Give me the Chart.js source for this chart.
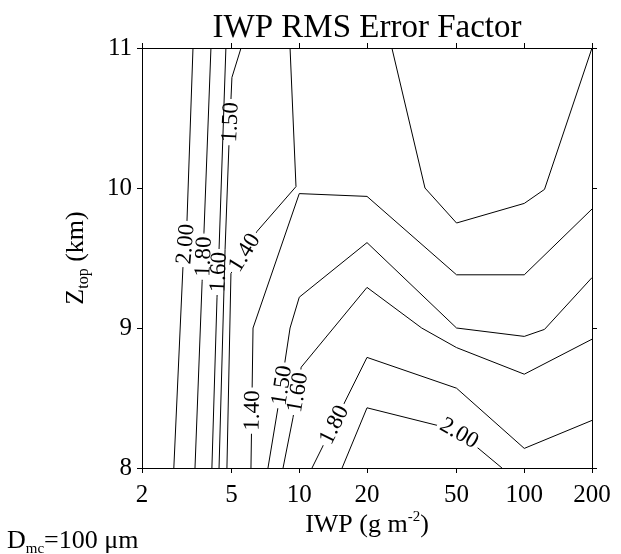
<!DOCTYPE html>
<html><head><meta charset="utf-8">
<script src="https://cdn.jsdelivr.net/npm/chart.js@4/dist/chart.umd.min.js"></script>
<style>html,body{margin:0;padding:0;background:#fff}#wrap{width:621px;height:554px;position:relative}</style>
</head><body><div id="wrap"><canvas id="c"></canvas></div>
<script>
// ---- data (IWP g m^-2, Ztop km) ----
const xTicks = [2, 5, 10, 20, 50, 100, 200];
const yTicks = [8, 9, 10, 11];
const c200a = [[3.37, 11], [3.17, 9.77], [3.04, 9.43], [2.77, 8]];
const c180a = [[4.05, 11], [3.77, 9.68], [3.70, 9.33], [3.44, 8]];
const c160a = [[4.72, 11], [4.40, 9.56], [4.31, 9.22], [4.09, 8]];
const c150a = [[5.51, 11], [5.02, 10.79], [4.87, 10.31], [4.68, 9.56], [4.40, 8]];
const c140a = [[9.10, 11], [9.67, 10.01], [6.49, 9.69], [4.97, 9.39], [4.77, 8]];
const c140b = [[200, 9.85], [100, 9.38], [50, 9.38], [20, 9.94], [10, 9.96], [6.23, 9.0], [6.10, 8]];
const c150b = [[200, 9.36], [123, 8.99], [100, 8.94], [50, 9.0], [20, 9.61], [10, 9.22], [9.10, 9.0], [8.04, 8.43], [7.26, 8]];
const c160b = [[200, 8.92], [100, 8.67], [50, 8.86], [35, 9.0], [20, 9.29], [10.2, 8.72], [9.38, 8.36], [8.47, 8]];
const c180b = [[200, 8.34], [100, 8.14], [50, 8.57], [20, 8.79], [11.39, 8]];
const c200b = [[15.5, 8], [20, 8.43], [50, 8.27], [79.6, 8]];
const c130 = [[25.8, 11], [36.2, 10.0], [50, 9.75], [100, 9.89], [123, 9.99], [200, 11]];
const contourLines = [c200a, c180a, c160a, c150a, c140a, c140b, c150b, c160b, c180b, c200b, c130];
// labels: labelTexts[i] sits on contourLines[i] near labelAnchors[i]
const labelTexts = ['2.00', '1.80', '1.60', '1.50', '1.40', '1.40', '1.50', '1.60', '1.80', '2.00'];
const labelAnchors = [[3.1, 9.6], [3.73, 9.51], [4.35, 9.4], [4.92, 10.47], [5.68, 9.54], [6.15, 8.41], [8.34, 8.59], [9.87, 8.54], [14.24, 8.31], [52, 8.26]];

const FONT = '"Liberation Serif","Times New Roman",serif';
const LABEL_FONT = '23px ' + FONT;

function labelGeom(chart, i) {
  const X = chart.scales.x, Y = chart.scales.y;
  const pts = contourLines[i].map(p => [X.getPixelForValue(p[0]), Y.getPixelForValue(p[1])]);
  const a = [X.getPixelForValue(labelAnchors[i][0]), Y.getPixelForValue(labelAnchors[i][1])];
  const arc = [0];
  for (let k = 1; k < pts.length; k++) arc.push(arc[k - 1] + Math.hypot(pts[k][0] - pts[k - 1][0], pts[k][1] - pts[k - 1][1]));
  let best = {d: Infinity, s: 0, q: a};
  for (let k = 1; k < pts.length; k++) {
    const p0 = pts[k - 1], p1 = pts[k];
    const dx = p1[0] - p0[0], dy = p1[1] - p0[1], L2 = dx * dx + dy * dy;
    let t = L2 ? ((a[0] - p0[0]) * dx + (a[1] - p0[1]) * dy) / L2 : 0;
    t = Math.max(0, Math.min(1, t));
    const q = [p0[0] + t * dx, p0[1] + t * dy];
    const d = Math.hypot(q[0] - a[0], q[1] - a[1]);
    if (d < best.d) best = {d, s: arc[k - 1] + t * Math.sqrt(L2), q};
  }
  const at = s => {
    s = Math.max(0, Math.min(arc[arc.length - 1], s));
    for (let k = 1; k < pts.length; k++) {
      if (s <= arc[k] || k === pts.length - 1) {
        const L = arc[k] - arc[k - 1], t = L ? (s - arc[k - 1]) / L : 0;
        return [pts[k - 1][0] + t * (pts[k][0] - pts[k - 1][0]), pts[k - 1][1] + t * (pts[k][1] - pts[k - 1][1])];
      }
    }
  };
  const h = 16, u = at(best.s - h), v = at(best.s + h);
  let ang = Math.atan2(v[1] - u[1], v[0] - u[0]);
  if (ang > Math.PI / 2) ang -= Math.PI; else if (ang <= -Math.PI / 2) ang += Math.PI;
  return {x: best.q[0], y: best.q[1], ang};
}

const contourPlugin = {
  id: 'contourLabels',
  beforeDatasetDraw(chart, args) {
    const i = args.index;
    if (i >= labelTexts.length) return;
    const ctx = chart.ctx, g = labelGeom(chart, i);
    ctx.font = LABEL_FONT;
    const hw = ctx.measureText(labelTexts[i]).width / 2 + 3, hh = 6;
    const c = Math.cos(g.ang), s = Math.sin(g.ang);
    const corner = (lx, ly) => [g.x + lx * c - ly * s, g.y + lx * s + ly * c];
    ctx.save();
    ctx.beginPath();
    ctx.rect(0, 0, chart.width, chart.height);
    const cs = [corner(-hw, -hh), corner(hw, -hh), corner(hw, hh), corner(-hw, hh)];
    ctx.moveTo(cs[0][0], cs[0][1]);
    for (let k = 1; k < 4; k++) ctx.lineTo(cs[k][0], cs[k][1]);
    ctx.closePath();
    ctx.clip('evenodd');
  },
  afterDatasetDraw(chart, args) {
    if (args.index < labelTexts.length) chart.ctx.restore();
  },
  afterDraw(chart) {
    const ctx = chart.ctx;
    ctx.save();
    ctx.fillStyle = '#000';
    // contour labels
    ctx.font = LABEL_FONT;
    ctx.textAlign = 'center';
    ctx.textBaseline = 'middle';
    labelTexts.forEach((t, i) => {
      const g = labelGeom(chart, i);
      ctx.save();
      ctx.translate(g.x, g.y);
      ctx.rotate(g.ang);
      ctx.fillText(t, 0, 1);
      ctx.restore();
    });
    const ca = chart.chartArea;
    const cx = (ca.left + ca.right) / 2, cy = (ca.top + ca.bottom) / 2;
    // title
    ctx.textBaseline = 'alphabetic';
    ctx.textAlign = 'center';
    ctx.font = '33px ' + FONT;
    ctx.fillText('IWP RMS Error Factor', cx, 37);
    const runs = (parts) => {
      let w = 0;
      parts.forEach(p => { ctx.font = p.size + 'px ' + FONT; p.w = ctx.measureText(p.t).width; w += p.w; });
      return w;
    };
    const drawRuns = (parts, x0, y0) => {
      ctx.textAlign = 'left';
      let x = x0;
      parts.forEach(p => { ctx.font = p.size + 'px ' + FONT; ctx.fillText(p.t, x, y0 + (p.dy || 0)); x += p.w; });
    };
    // x-axis title
    const xt = [{t: 'IWP (g m', size: 26}, {t: '-2', size: 15, dy: -11}, {t: ')', size: 26}];
    const xw = runs(xt);
    drawRuns(xt, cx - xw / 2, 532);
    // y-axis title
    const yt = [{t: 'Z', size: 26}, {t: 'top', size: 16, dy: 5}, {t: ' (km)', size: 26}];
    const yw = runs(yt);
    ctx.save();
    ctx.translate(83, cy);
    ctx.rotate(-Math.PI / 2);
    drawRuns(yt, -yw / 2, 0);
    ctx.restore();
    // parameter note
    const dt = [{t: 'D', size: 26}, {t: 'mc', size: 15, dy: 5}, {t: '=100 μm', size: 26}];
    runs(dt);
    drawRuns(dt, 7, 548);
    ctx.restore();
  }
};

const tickFont = {family: FONT, size: 25};
const axisCommon = {
  grid: {drawOnChartArea: false, drawTicks: true, tickLength: 5, color: '#000', lineWidth: 1},
  border: {display: true, color: '#000', width: 1}
};

new Chart(document.getElementById('c'), {
  type: 'scatter',
  data: {
    datasets: contourLines.map(line => ({
      data: line.map(p => ({x: p[0], y: p[1]})),
      showLine: true, borderColor: '#000', borderWidth: 1, pointRadius: 0, pointHoverRadius: 0, fill: false, tension: 0
    }))
  },
  options: {
    responsive: true, maintainAspectRatio: false, animation: false,
    layout: {padding: 0},
    plugins: {legend: {display: false}, tooltip: {enabled: false}, title: {display: false}},
    events: [],
    scales: {
      x: Object.assign({}, axisCommon, {
        type: 'logarithmic', position: 'bottom', min: 2, max: 200,
        afterBuildTicks: s => { s.ticks = xTicks.map(v => ({value: v})); },
        afterFit: s => { s.height = 86; },
        ticks: {font: tickFont, color: '#000', padding: 7, maxRotation: 0, autoSkip: false, callback: v => String(v)}
      }),
      x2: Object.assign({}, axisCommon, {
        type: 'logarithmic', position: 'top', min: 2, max: 200,
        afterBuildTicks: s => { s.ticks = xTicks.map(v => ({value: v})); },
        afterFit: s => { s.height = 48; },
        ticks: {display: false}
      }),
      y: Object.assign({}, axisCommon, {
        type: 'linear', position: 'left', min: 8, max: 11,
        afterBuildTicks: s => { s.ticks = yTicks.map(v => ({value: v})); },
        afterFit: s => { s.width = 142; },
        ticks: {font: tickFont, color: '#000', padding: 5, callback: v => String(v)}
      }),
      y2: Object.assign({}, axisCommon, {
        type: 'linear', position: 'right', min: 8, max: 11,
        afterBuildTicks: s => { s.ticks = yTicks.map(v => ({value: v})); },
        afterFit: s => { s.width = 29; },
        ticks: {display: false}
      })
    }
  },
  plugins: [contourPlugin]
});
</script>
</body></html>
